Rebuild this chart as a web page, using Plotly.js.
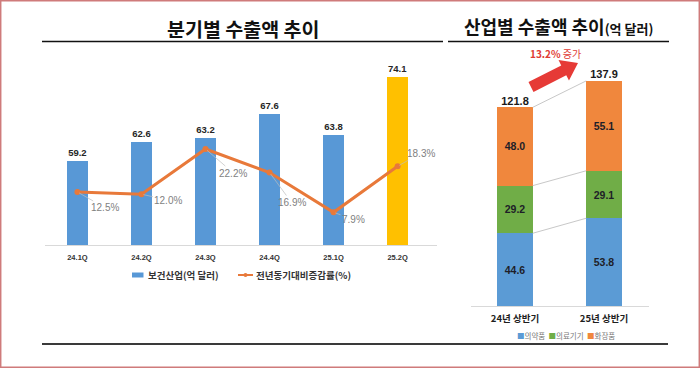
<!DOCTYPE html>
<html><head><meta charset="utf-8">
<script src="https://cdn.plot.ly/plotly-3.0.1.min.js"></script>
<style>html,body{margin:0;padding:0;background:#fff}#chart{width:700px;height:368px}</style>
</head><body><div id="chart"></div>
<script>
// ---- data ----
const quarters = ['24.1Q','24.2Q','24.3Q','24.4Q','25.1Q','25.2Q'];
const exportValues = [59.2, 62.6, 63.2, 67.6, 63.8, 74.1];
const growthRates = [12.5, 12.0, 22.2, 16.9, 7.9, 18.3];
const halves = ['24년 상반기', '25년 상반기'];
const pharma = [44.6, 53.8];
const devices = [29.2, 29.1];
const cosmetics = [48.0, 55.1];
const totals = [121.8, 137.9];
const totalGrowth = 13.2;
const seriesNames = ['보건산업(억 달러)', '전년동기대비증감률(%)'];
const stackNames = ['의약품', '의료기기', '화장품'];

// ---- styles / positions ----
const W = 700, H = 368;
const px = x => x / W, py = y => 1 - y / H;
const KR = '"Noto Sans CJK KR", sans-serif';
const NUM = '"Liberation Sans", Arial, sans-serif';
const BLUE = '#5898d6', YELLOW = '#ffc000', ORANGE_LINE = '#e8793a';
const C_PH = '#5b9bd5', C_DEV = '#70ad47', C_COS = '#f0873d';
const labelOffsets = [[28,16],[27,6],[28,24],[22,30],[20,7],[23,-13]];

const barColors = exportValues.map((v,i) => i === exportValues.length-1 ? YELLOW : BLUE);

const traces = [
  {type:'bar', x:quarters, y:exportValues, xaxis:'x', yaxis:'y', width:0.33,
   marker:{color:barColors}, text:exportValues.map(v=>v.toFixed(1)), textposition:'outside',
   textfont:{family:NUM, size:9.5, color:'#262626', weight:'bold'}, cliponaxis:false, hoverinfo:'skip'},
  {type:'scatter', mode:'lines+markers', x:quarters, y:growthRates, xaxis:'x', yaxis:'y2',
   line:{color:ORANGE_LINE, width:3}, marker:{color:ORANGE_LINE, size:6}, hoverinfo:'skip'}
];
const stackData = [pharma, devices, cosmetics];
const stackColors = [C_PH, C_DEV, C_COS];
stackData.forEach((arr, k) => {
  traces.push({type:'bar', x:halves, y:arr, xaxis:'x3', yaxis:'y3', width:0.4, name:stackNames[k],
    marker:{color:stackColors[k]}, text:arr.map(v=>v.toFixed(1)), textposition:'inside',
    insidetextanchor:'middle', textangle:0, constraintext:'none',
    textfont:{family:NUM, size:10.5, color:'#1e1e28', weight:'bold'}, hoverinfo:'skip'});
});
traces.push({type:'scatter', mode:'text', x:halves, y:totals, xaxis:'x3', yaxis:'y3',
  text:totals.map(v=>v.toFixed(1)), textposition:'top center', cliponaxis:false,
  textfont:{family:NUM, size:11, color:'#1a1a1a', weight:'bold'}, hoverinfo:'skip'});

// connector lines between stacks
const shapes = [];
const cum = stackData.map((_,k) => halves.map((_,j) => stackData.slice(0,k+1).reduce((s,a)=>s+a[j],0)));
cum.forEach(level => {
  shapes.push({type:'line', xref:'x3', yref:'y3', x0:0.2, x1:0.8, y0:level[0], y1:level[1],
    line:{color:'#c8c8c8', width:1}});
});
// title underlines, bottom line, border
shapes.push({type:'line', xref:'paper', yref:'paper', x0:px(42), x1:px(443), y0:py(41.5), y1:py(41.5), line:{color:'#111', width:1.5}});
shapes.push({type:'line', xref:'paper', yref:'paper', x0:px(448), x1:px(669), y0:py(41.5), y1:py(41.5), line:{color:'#111', width:1.5}});
shapes.push({type:'line', xref:'paper', yref:'paper', x0:px(42), x1:px(668), y0:py(344), y1:py(344), line:{color:'#3a3a3a', width:2}});
shapes.push({type:'rect', xref:'paper', yref:'paper', x0:px(0.7), x1:px(699.3), y0:py(0.7), y1:py(367.3), line:{color:'#cf7b7b', width:1.5}});
// left legend samples
shapes.push({type:'rect', xref:'paper', yref:'paper', x0:px(132), x1:px(143.5), y0:py(272.5), y1:py(277.5), line:{width:0}, fillcolor:BLUE});
shapes.push({type:'line', xref:'paper', yref:'paper', x0:px(238), x1:px(253), y0:py(275), y1:py(275), line:{color:ORANGE_LINE, width:2}});
shapes.push({type:'circle', xref:'paper', yref:'paper', x0:px(243.5), x1:px(247.5), y0:py(273), y1:py(277), line:{width:0}, fillcolor:ORANGE_LINE});
// red arrow
(function(){
  const T=[531,87], P=[578,63];
  const dx=P[0]-T[0], dy=P[1]-T[1], L=Math.hypot(dx,dy);
  const u=[dx/L, dy/L], n=[-u[1], u[0]];
  const hw=5.5, hh=11.5, hl=16;
  const B=[P[0]-u[0]*hl, P[1]-u[1]*hl];
  const pts=[
    [T[0]+n[0]*hw, T[1]+n[1]*hw],[B[0]+n[0]*hw, B[1]+n[1]*hw],[B[0]+n[0]*hh, B[1]+n[1]*hh],P,
    [B[0]-n[0]*hh, B[1]-n[1]*hh],[B[0]-n[0]*hw, B[1]-n[1]*hw],[T[0]-n[0]*hw, T[1]-n[1]*hw]];
  const path = 'M' + pts.map(p=>px(p[0]).toFixed(5)+','+py(p[1]).toFixed(5)).join(' L') + ' Z';
  shapes.push({type:'path', xref:'paper', yref:'paper', path:path, line:{width:0}, fillcolor:'#e63a36'});
})();

const annotations = [
  {xref:'paper', yref:'paper', x:px(242.5), y:py(29), text:'분기별 수출액 추이', showarrow:false,
   font:{family:KR, size:19.5, color:'#111', weight:'bold'}, xanchor:'center', yanchor:'middle'},
  {xref:'paper', yref:'paper', x:px(558), y:py(26), text:'산업별 수출액 추이<span style="font-size:13px">(억 달러)</span>', showarrow:false,
   font:{family:KR, size:18, color:'#111', weight:'bold'}, xanchor:'center', yanchor:'middle'},
  {xref:'paper', yref:'paper', x:px(555.5), y:py(53), text:'<b>'+totalGrowth.toFixed(1)+'%</b> 증가', showarrow:false,
   font:{family:KR, size:10, color:'#e03a33'}, xanchor:'center', yanchor:'middle'},
  {xref:'paper', yref:'paper', x:px(146), y:py(275), text:seriesNames[0], showarrow:false,
   font:{family:KR, size:9.5, color:'#333', weight:'bold'}, xanchor:'left', yanchor:'middle'},
  {xref:'paper', yref:'paper', x:px(254), y:py(275), text:seriesNames[1], showarrow:false,
   font:{family:KR, size:9.5, color:'#333', weight:'bold'}, xanchor:'left', yanchor:'middle'},
  {xref:'paper', yref:'paper', x:px(566), y:py(335), showarrow:false, xanchor:'center', yanchor:'middle',
   text: stackNames.map((s,k)=>'<span style="color:'+stackColors[k]+'">■</span>'+s).join('  '),
   font:{family:KR, size:7.5, color:'#777'}}
];
growthRates.forEach((v,i) => {
  annotations.push({xref:'x', yref:'y2', x:quarters[i], y:v, text:v.toFixed(1)+'%',
    showarrow:true, arrowhead:0, arrowwidth:0.7, arrowcolor:'#bdbdbd', ax:labelOffsets[i][0], ay:labelOffsets[i][1],
    standoff:2, font:{family:NUM, size:10, color:'#7f7f7f'}});
});

const layout = {
  width:W, height:H, margin:{l:0,r:0,t:0,b:0}, paper_bgcolor:'#fff', plot_bgcolor:'rgba(0,0,0,0)',
  showlegend:false, barmode:'stack',
  xaxis:{domain:[px(45.4), px(436.6)], anchor:'y', type:'category', showline:true, linecolor:'#d9d9d9', linewidth:1,
    showgrid:false, ticks:'', ticklabelstandoff:5, tickfont:{family:NUM, size:7.5, color:'#333', weight:'bold'}, fixedrange:true},
  yaxis:{domain:[py(245), py(60)], anchor:'x', range:[44.29, 77.09], visible:false, fixedrange:true},
  yaxis2:{overlaying:'y', anchor:'x', range:[0.52, 42.31], visible:false, fixedrange:true},
  xaxis3:{domain:[px(470.5), px(648.5)], anchor:'y3', type:'category', range:[-0.5,1.5], showline:true, linecolor:'#d9d9d9',
    linewidth:1, showgrid:false, ticks:'', ticklabelstandoff:4, tickfont:{family:KR, size:9.5, color:'#1e1e1e', weight:'bold'}, fixedrange:true},
  yaxis3:{domain:[py(306), py(60)], anchor:'x3', range:[0,150.8], visible:false, fixedrange:true},
  shapes:shapes, annotations:annotations
};
Plotly.newPlot('chart', traces, layout, {displayModeBar:false, staticPlot:true});
</script></body></html>
